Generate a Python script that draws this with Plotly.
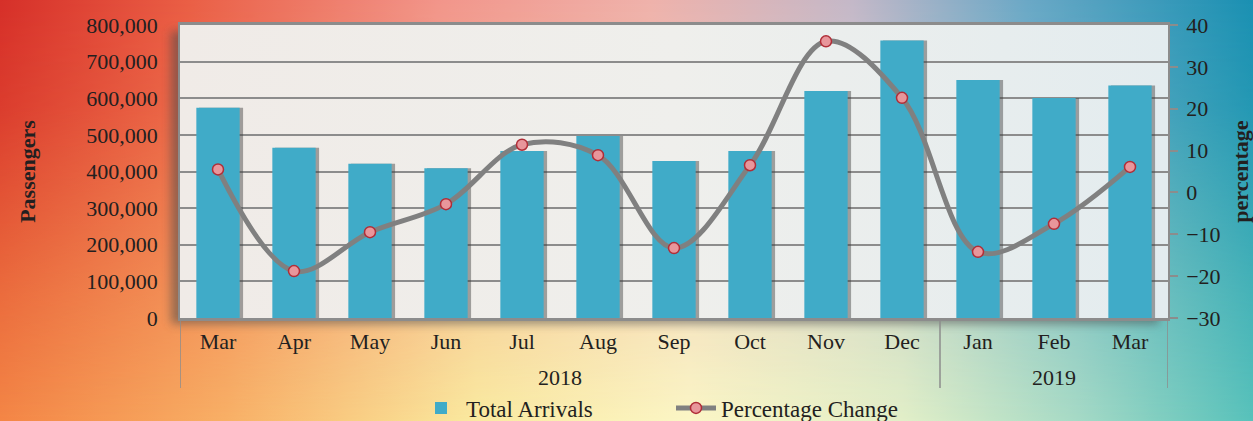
import base64
import plotly.graph_objects as go

# ---------------- data ----------------
years = ["2018"] * 10 + ["2019"] * 3
months = ["Mar", "Apr", "May", "Jun", "Jul", "Aug", "Sep", "Oct", "Nov", "Dec", "Jan", "Feb", "Mar"]
total_arrivals = [574000, 465000, 421000, 409000, 456000, 497000, 429000, 456000, 620000, 758000, 650000, 601000, 635000]
pct_change = [5.5, -18.8, -9.5, -2.8, 11.4, 8.9, -13.3, 6.5, 36.1, 22.6, -14.2, -7.5, 6.1]
left_ticks = [0, 100000, 200000, 300000, 400000, 500000, 600000, 700000, 800000]
right_ticks = [-30, -20, -10, 0, 10, 20, 30, 40]

# ---------------- layout constants ----------------
W, H = 1253, 421
ML, MR, MT, MB = 180, 85, 25, 103
PW, PH = W - ML - MR, H - MT - MB
FONT = "Liberation Serif"
TXT = "#231f20"
GRID = "#8c8c8c"
BAR_COLOR = "#40abc8"
TICK_SIZE = 22

def px_to_paper_y(py):
    return (MT + PH - py) / PH

def px_to_paper_x(px):
    return (px - ML) / PW

# background artwork (gradient page + plot-area panel with drop shadow)
svg = f"""<svg xmlns='http://www.w3.org/2000/svg' width='{W}' height='{H}' viewBox='0 0 {W} {H}' preserveAspectRatio='none'>
<defs>
<linearGradient id='bot' x1='0' y1='0' x2='1' y2='0'>
<stop offset='0' stop-color='#f48646'/>
<stop offset='0.18' stop-color='#f8b066'/>
<stop offset='0.38' stop-color='#faeaa0'/>
<stop offset='0.55' stop-color='#fbf6c6'/>
<stop offset='0.72' stop-color='#e2efc8'/>
<stop offset='0.86' stop-color='#a6dac6'/>
<stop offset='1' stop-color='#58c2bb'/>
</linearGradient>
<linearGradient id='top' x1='0' y1='0' x2='1' y2='0'>
<stop offset='0' stop-color='#d62f29'/>
<stop offset='0.15' stop-color='#ea5e45'/>
<stop offset='0.35' stop-color='#f2958a'/>
<stop offset='0.52' stop-color='#efb2ab'/>
<stop offset='0.68' stop-color='#c4b8c8'/>
<stop offset='0.82' stop-color='#6aa8c6'/>
<stop offset='1' stop-color='#1a90b2'/>
</linearGradient>
<linearGradient id='fade' x1='0' y1='0' x2='0' y2='1'>
<stop offset='0' stop-color='white' stop-opacity='1'/>
<stop offset='0.25' stop-color='white' stop-opacity='0.85'/>
<stop offset='0.7' stop-color='white' stop-opacity='0.3'/>
<stop offset='1' stop-color='white' stop-opacity='0'/>
</linearGradient>
<mask id='m'><rect x='0' y='0' width='{W}' height='{H}' fill='url(#fade)'/></mask>
<linearGradient id='panel' x1='0' y1='0' x2='1' y2='0'>
<stop offset='0' stop-color='#f0ebe7'/>
<stop offset='0.5' stop-color='#efefec'/>
<stop offset='1' stop-color='#e3ecef'/>
</linearGradient>
<filter id='blur' x='-5%' y='-10%' width='110%' height='120%'><feGaussianBlur stdDeviation='5'/></filter>
</defs>
<rect x='0' y='0' width='{W}' height='{H}' fill='url(#bot)'/>
<rect x='0' y='0' width='{W}' height='{H}' fill='url(#top)' mask='url(#m)'/>
<rect x='{ML-9}' y='{MT+6}' width='{PW}' height='{PH}' fill='#4a4a4a' opacity='0.55' filter='url(#blur)'/>
<rect x='{ML}' y='{MT}' width='{PW}' height='{PH}' fill='url(#panel)'/>
</svg>"""
src = "data:image/svg+xml;base64," + base64.b64encode(svg.encode()).decode()

idx = list(range(len(months)))

fig = go.Figure()

# soft shadow behind bars
fig.add_trace(go.Bar(
    x=idx, y=total_arrivals, width=0.58, offset=-0.25,
    marker=dict(color="rgba(60,60,60,0.45)", line=dict(width=0)),
    showlegend=False, hoverinfo="skip",
))
fig.add_trace(go.Bar(
    x=idx, y=total_arrivals, width=0.57, offset=-0.285,
    name="Total Arrivals",
    marker=dict(color=BAR_COLOR, line=dict(width=0)),
))
fig.add_trace(go.Scatter(
    x=idx, y=pct_change, yaxis="y2", name="Percentage Change",
    mode="lines+markers",
    line=dict(color="#808080", width=5, shape="spline", smoothing=1.0),
    marker=dict(symbol="circle", size=11, color="#e8969b", line=dict(color="#b02e38", width=1.5)),
))

# year group labels and dividers, derived from the years list
annotations = []
shapes = []
groups = []
for i, yv in enumerate(years):
    if not groups or groups[-1][0] != yv:
        groups.append([yv, i, i])
    else:
        groups[-1][2] = i
div_bottom = px_to_paper_y(388)
bounds = set()
for yv, a, b in groups:
    annotations.append(dict(
        x=(a + b) / 2, y=px_to_paper_y(377), xref="x", yref="paper",
        text=yv, showarrow=False, yanchor="middle",
        font=dict(family=FONT, size=TICK_SIZE, color=TXT),
    ))
    bounds.add(a - 0.5)
    bounds.add(b + 0.5)
for bx in sorted(bounds):
    shapes.append(dict(
        type="line", xref="x", yref="paper", x0=bx, x1=bx, y0=0, y1=div_bottom,
        line=dict(color=GRID, width=1.5),
    ))

fig.update_layout(
    width=W, height=H,
    margin=dict(l=ML, r=MR, t=MT, b=MB, autoexpand=False),
    paper_bgcolor="rgba(0,0,0,0)",
    plot_bgcolor="rgba(0,0,0,0)",
    barmode="overlay",
    font=dict(family=FONT, size=TICK_SIZE, color=TXT),
    images=[dict(
        source=src, xref="paper", yref="paper",
        x=-ML / PW, y=1 + MT / PH, sizex=W / PW, sizey=H / PH,
        xanchor="left", yanchor="top", sizing="stretch", layer="below",
    )],
    annotations=annotations,
    shapes=shapes,
    xaxis=dict(
        range=[-0.5, len(months) - 0.5],
        tickvals=idx, ticktext=months,
        showline=True, linecolor=GRID, linewidth=3, mirror=True,
        tickfont=dict(family=FONT, size=TICK_SIZE, color=TXT),
        showgrid=False, ticks="", zeroline=False,
        ticklabelstandoff=2,
    ),
    yaxis=dict(
        range=[0, 800000], tickvals=left_ticks, tickformat=",",
        showgrid=True, gridcolor=GRID, gridwidth=1.5,
        showline=True, linecolor=GRID, linewidth=1.5,
        tickfont=dict(family=FONT, size=TICK_SIZE, color=TXT),
        ticks="", ticklabelstandoff=16, zeroline=False,
        title=dict(text="<b>Passengers</b>", font=dict(family=FONT, size=22, color=TXT), standoff=45),
    ),
    yaxis2=dict(
        overlaying="y", side="right",
        range=[-30, 40], tickvals=right_ticks,
        showgrid=False, zeroline=False,
        showline=True, linecolor=GRID, linewidth=1.5,
        tickfont=dict(family=FONT, size=TICK_SIZE, color=TXT),
        ticks="outside", ticklen=8, tickcolor=GRID, tickwidth=1.5,
        ticklabelstandoff=4,
        title=dict(text="<b>percentage</b>", font=dict(family=FONT, size=22, color=TXT), standoff=14),
    ),
    legend=dict(
        orientation="h", x=px_to_paper_x(416), xanchor="left", y=px_to_paper_y(408), yanchor="middle",
        font=dict(family=FONT, size=23, color=TXT),
        bgcolor="rgba(0,0,0,0)", itemwidth=40, entrywidth=200,
    ),
)

fig.write_html(
    "out.html",
    config={"displayModeBar": False},
    post_script="document.body.style.margin='0';document.body.style.overflow='hidden';",
)
